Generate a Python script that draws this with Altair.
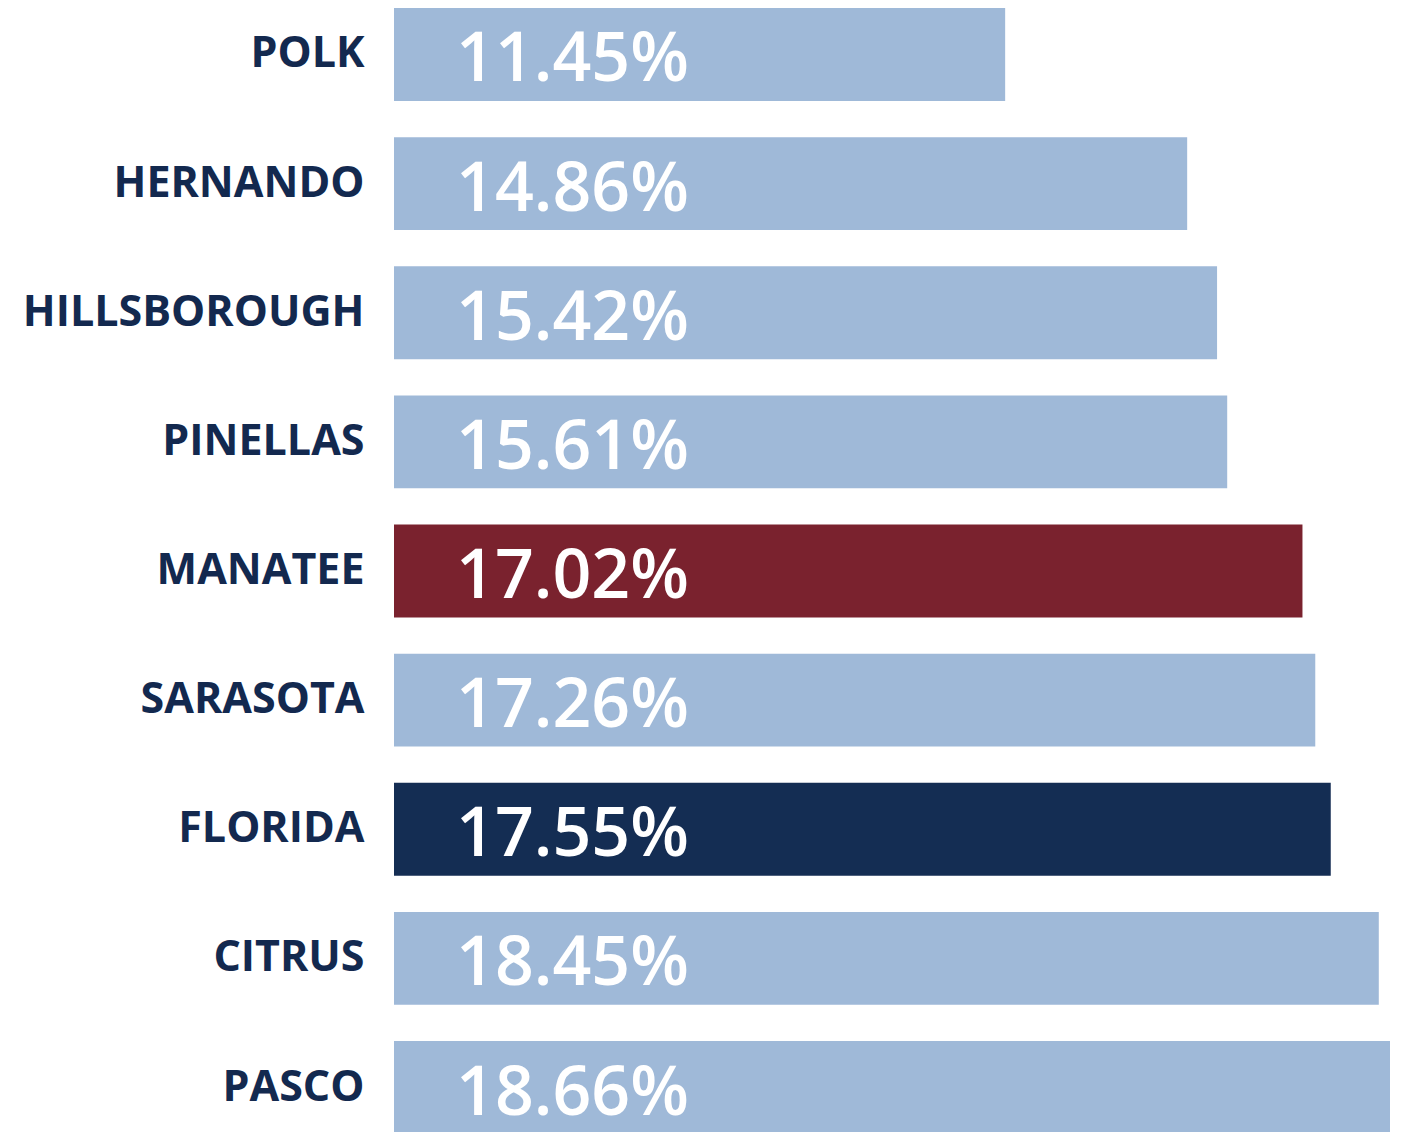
import altair as alt
import pandas as pd

counties = ["POLK", "HERNANDO", "HILLSBOROUGH", "PINELLAS", "MANATEE",
            "SARASOTA", "FLORIDA", "CITRUS", "PASCO"]
values = [11.45, 14.86, 15.42, 15.61, 17.02, 17.26, 17.55, 18.45, 18.66]
groups = ["county", "county", "county", "county", "manatee",
          "county", "florida", "county", "county"]

group_domain = ["county", "manatee", "florida"]
group_colors = ["#9FB9D8", "#7A222E", "#142D53"]

df = pd.DataFrame({"county": counties, "value": values, "group": groups})

y_enc = alt.Y(
    "county:N",
    sort=counties,
    title=None,
    scale=alt.Scale(paddingInner=0.28, paddingOuter=0),
    axis=alt.Axis(
        domain=False, ticks=False, grid=False,
        labelFont="Open Sans", labelFontWeight="bold", labelFontSize=43,
        labelColor="#13294F", labelPadding=30,
        minExtent=386, maxExtent=386, labelLimit=0,
    ),
)

bars = alt.Chart(df).mark_bar().encode(
    y=y_enc,
    x=alt.X("value:Q", axis=None, scale=alt.Scale(domain=[0, 18.66], nice=False)),
    color=alt.Color("group:N", legend=None,
                    scale=alt.Scale(domain=group_domain, range=group_colors)),
)

labels = alt.Chart(df).transform_calculate(
    label="format(datum.value, '.2f') + '%'"
).mark_text(
    align="left", baseline="middle", dx=62, dy=7,
    font="Open Sans", fontWeight=600, fontSize=68, color="white",
).encode(
    y=alt.Y("county:N", sort=counties),
    x=alt.datum(0),
    text="label:N",
)

chart = alt.layer(bars, labels).properties(
    width=996, height=1126, padding=0
).configure_view(stroke=None)

chart.save("out.html", embed_options={"renderer": "svg", "actions": False})
